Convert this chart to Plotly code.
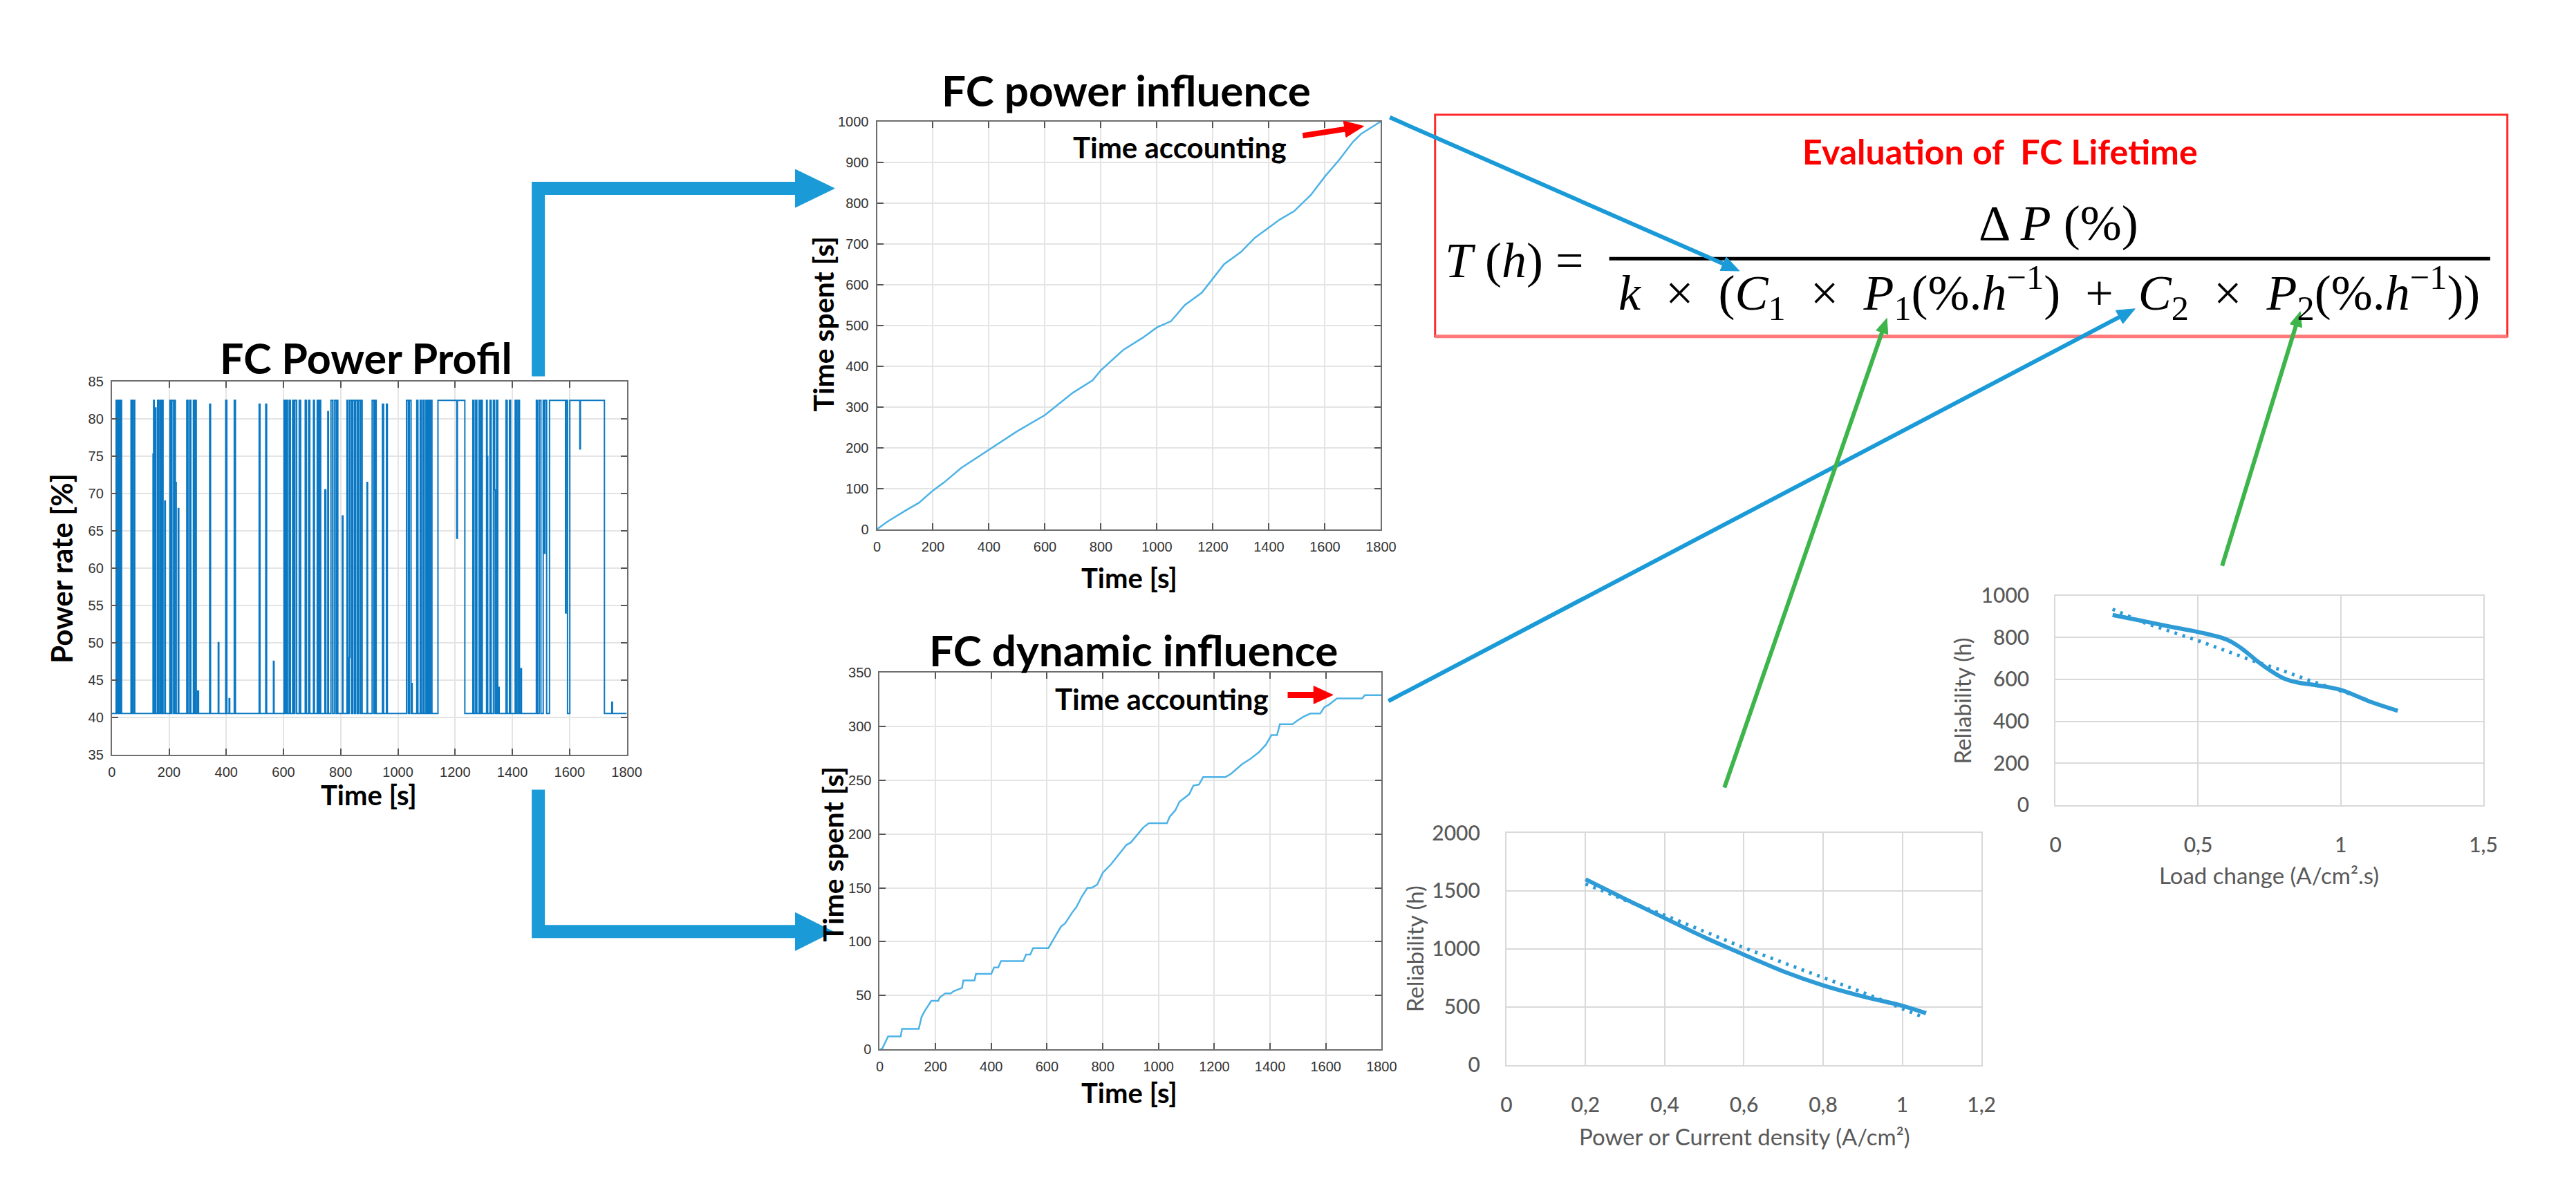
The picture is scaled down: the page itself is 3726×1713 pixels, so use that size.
import math
import plotly.graph_objects as go

W, H = 3726, 1713

# ---- FC power profile (step signal) : time [s], power rate [%]
PROFILE_T = [0,
             15, 18, 22, 26, 30, 34, 67, 71, 75, 80,
             144, 146, 148, 152, 154, 160, 163, 168, 172, 176, 179, 185, 187,
             203, 207, 210, 216, 220, 222, 225, 232, 234,
             262, 266, 272, 276, 285, 289, 292, 295, 300, 303,
             342, 345, 372, 374, 398, 402, 410, 412, 428, 432,
             515, 518, 538, 541, 565, 567,
             602, 606, 610, 614, 620, 624, 632, 636, 640, 646, 655, 660,
             676, 680, 688, 692, 705, 708, 718, 722, 726, 730, 745, 748, 755, 757,
             766, 772, 778, 784, 788, 790, 806, 808,
             822, 826, 830, 832, 838, 842, 848, 852, 858, 862, 868, 870, 875, 892, 894,
             910, 916, 920, 924, 946, 950, 960, 963,
             1030, 1036, 1040, 1046, 1048, 1050,
             1066, 1070, 1078, 1082, 1088, 1092, 1098, 1102, 1106, 1110, 1114, 1119,
             1140, 1206, 1208, 1234,
             1262, 1266, 1272, 1276, 1284, 1288, 1292, 1295,
             1310, 1312, 1314, 1322, 1326, 1334, 1338, 1340, 1345, 1349, 1352, 1354,
             1378, 1382, 1390, 1394, 1410, 1415, 1420, 1425, 1430, 1432,
             1484, 1488, 1494, 1500, 1508, 1512, 1514, 1520,
             1530, 1586, 1588, 1593, 1601, 1636, 1638, 1722, 1748, 1750, 1800]
PROFILE_P = [40.5,
             82.5, 40.5, 82.5, 40.5, 82.5, 40.5, 82.5, 40.5, 82.5, 40.5,
             75.3, 82.5, 40.5, 81.5, 40.5, 82.5, 40.5, 82.5, 40.5, 82.5, 40.5, 69, 40.5,
             82.5, 40.5, 82.5, 40.5, 82.5, 71.5, 40.5, 68, 40.5,
             82.5, 40.5, 82.5, 40.5, 82.5, 40.5, 82.5, 40.5, 43.5, 40.5,
             82, 40.5, 50, 40.5, 82.5, 40.5, 42.5, 40.5, 82.5, 40.5,
             82, 40.5, 82, 40.5, 47.5, 40.5,
             82.5, 40.5, 82.5, 40.5, 82.5, 40.5, 82.5, 40.5, 82.5, 40.5, 82.5, 40.5,
             82.5, 40.5, 82.5, 40.5, 82.5, 40.5, 82.5, 40.5, 82.5, 40.5, 70.5, 40.5, 81, 40.5,
             82.5, 40.5, 82.5, 40.5, 82.5, 40.5, 67, 40.5,
             82.5, 40.5, 48, 82.5, 40.5, 82.5, 40.5, 82.5, 40.5, 82.5, 40.5, 82.5, 40.5, 71.5, 40.5,
             82.5, 40.5, 82.5, 40.5, 82, 40.5, 82, 40.5,
             82.5, 40.5, 82.5, 40.5, 44.5, 40.5,
             82.5, 40.5, 82.5, 40.5, 82.5, 40.5, 82.5, 40.5, 82.5, 40.5, 82.5, 40.5,
             82.5, 64, 82.5, 40.5,
             82.5, 40.5, 82.5, 40.5, 82.5, 40.5, 82.5, 40.5,
             82.5, 75, 40.5, 82.5, 40.5, 82.5, 70.5, 40.5, 82.5, 40.5, 44, 40.5,
             82.5, 40.5, 82.5, 40.5, 82.5, 40.5, 82.5, 40.5, 46.5, 40.5,
             82.5, 40.5, 82.5, 40.5, 82.5, 62, 82.5, 40.5,
             82.5, 54, 82.5, 40.5, 82.5, 76, 82.5, 40.5, 42, 40.5, 40.5]

# ---- FC power influence : cumulated time spent [s]
POWER_T = [0, 40, 100, 150, 200, 240, 300, 400, 500, 600, 700, 770, 800, 880, 950, 1000,
           1050, 1100, 1160, 1240, 1300, 1350, 1400, 1440, 1490, 1550, 1600, 1650, 1700, 1730, 1800]
POWER_S = [0, 20, 45, 65, 95, 115, 150, 195, 240, 280, 335, 365, 390, 440, 470, 495,
           510, 550, 580, 650, 680, 715, 740, 760, 780, 820, 865, 905, 950, 970, 1000]

# ---- FC dynamic influence : cumulated time spent [s]
DYN_T = [0, 8, 30, 75, 80, 140, 150, 160, 185, 210, 215, 235, 255, 265, 295, 300, 340, 345,
         400, 410, 425, 435, 515, 525, 540, 550, 605, 630, 650, 665, 690, 705, 725, 745,
         760, 780, 800, 830, 855, 885, 900, 925, 945, 965, 1030, 1040, 1060, 1075, 1110,
         1125, 1145, 1160, 1240, 1260, 1300, 1330, 1360, 1385, 1405, 1425, 1435, 1480,
         1495, 1520, 1545, 1580, 1595, 1610, 1640, 1730, 1740, 1800]
DYN_S = [0, 0, 12, 12, 19, 19, 30, 35, 45, 45, 48, 52, 52, 54, 57, 64, 64, 70,
         70, 76, 76, 82, 82, 88, 88, 94, 94, 105, 114, 117, 127, 132, 142, 150,
         150, 153, 164, 172, 180, 190, 192, 200, 206, 210, 210, 216, 222, 230, 237,
         245, 246, 253, 253, 256, 265, 270, 276, 283, 292, 292, 302, 302,
         305, 309, 312, 312, 318, 320, 326, 326, 329, 329]

# ---- Reliability vs power / current density
DENS_X = [0.2, 0.3, 0.4, 0.5, 0.6, 0.7, 0.8, 0.9, 1.0, 1.06]
DENS_Y = [1600, 1430, 1265, 1100, 950, 805, 685, 590, 510, 445]
DENS_TREND_X = [0.2, 0.3, 0.4, 0.5, 0.6, 0.7, 0.8, 0.9, 1.0, 1.05]
DENS_TREND_Y = [1560, 1420, 1290, 1150, 1010, 880, 755, 625, 485, 415]
DENS_TICKS = [0, 0.2, 0.4, 0.6, 0.8, 1.0, 1.2]
DENS_TICKTEXT = ["0", "0,2", "0,4", "0,6", "0,8", "1", "1,2"]

# ---- Reliability vs load change
LOAD_X = [0.2, 0.3, 0.4, 0.5, 0.6, 0.65, 0.7, 0.75, 0.8, 0.85, 0.9, 1.0, 1.1, 1.2]
LOAD_Y = [907, 880, 852, 826, 790, 750, 695, 645, 605, 585, 575, 550, 495, 450]
LOAD_TREND_X = [0.2, 0.3, 0.4, 0.5, 0.6, 0.7, 0.8, 0.9, 1.0, 1.1]
LOAD_TREND_Y = [935, 875, 830, 785, 735, 685, 640, 590, 545, 500]
LOAD_TICKS = [0, 0.5, 1.0, 1.5]
LOAD_TICKTEXT = ["0", "0,5", "1", "1,5"]


def fx(x):
    return x / W


def fy(y):
    return 1 - y / H


def dom_x(a, b):
    return [fx(a), fx(b)]


def dom_y(top, bottom):
    return [fy(bottom), fy(top)]


matlab_font = dict(family="Liberation Sans, Arial", size=20, color="#333333")
excel_font = dict(family="Lato", size=30, color="#595959", weight=500)


def matlab_axis(**kw):
    d = dict(showline=True, linecolor="#6e6e6e", linewidth=2, mirror="ticks",
             ticks="inside", ticklen=9, tickwidth=2, tickcolor="#555555",
             showgrid=True, gridcolor="#e4e4e4", gridwidth=2, zeroline=False,
             tickfont=matlab_font, ticklabelstandoff=6, fixedrange=True)
    d.update(kw)
    return d


def excel_axis(**kw):
    d = dict(showline=True, linecolor="#d9d9d9", linewidth=2, mirror=True, ticks="",
             showgrid=True, gridcolor="#d9d9d9", gridwidth=2, zeroline=False,
             tickfont=excel_font, ticklabelstandoff=30, fixedrange=True)
    d.update(kw)
    return d


fig = go.Figure()

fig.add_trace(go.Scatter(x=PROFILE_T, y=PROFILE_P, mode="lines", xaxis="x", yaxis="y",
                         line=dict(color="#0a78c2", width=2, shape="hv")))
fig.add_trace(go.Scatter(x=POWER_T, y=POWER_S, mode="lines", xaxis="x2", yaxis="y2",
                         line=dict(color="#4db3e6", width=2.5)))
fig.add_trace(go.Scatter(x=DYN_T, y=DYN_S, mode="lines", xaxis="x3", yaxis="y3",
                         line=dict(color="#4db3e6", width=2.5)))
fig.add_trace(go.Scatter(x=DENS_TREND_X, y=DENS_TREND_Y, mode="lines", xaxis="x4", yaxis="y4",
                         line=dict(color="#2e9bd6", width=5, dash="4px,8px")))
fig.add_trace(go.Scatter(x=DENS_X, y=DENS_Y, mode="lines", xaxis="x4", yaxis="y4",
                         line=dict(color="#2e9bd6", width=6, shape="spline")))
fig.add_trace(go.Scatter(x=LOAD_TREND_X, y=LOAD_TREND_Y, mode="lines", xaxis="x5", yaxis="y5",
                         line=dict(color="#2e9bd6", width=5, dash="4px,8px")))
fig.add_trace(go.Scatter(x=LOAD_X, y=LOAD_Y, mode="lines", xaxis="x5", yaxis="y5",
                         line=dict(color="#2e9bd6", width=6, shape="spline")))

fig.update_layout(
    xaxis=matlab_axis(domain=dom_x(146, 897), anchor="y", range=[0, 1800], dtick=200),
    yaxis=matlab_axis(domain=dom_y(536, 1087), anchor="x", range=[35, 85], dtick=5),
    xaxis2=matlab_axis(domain=dom_x(1262, 1997), anchor="y2", range=[0, 1800], dtick=200),
    yaxis2=matlab_axis(domain=dom_y(151, 754), anchor="x2", range=[0, 1000], dtick=100),
    xaxis3=matlab_axis(domain=dom_x(1266, 1998), anchor="y3", range=[0, 1800], dtick=200),
    yaxis3=matlab_axis(domain=dom_y(966, 1523), anchor="x3", range=[0, 350], dtick=50),
    xaxis4=excel_axis(domain=dom_x(2180, 2873), anchor="y4", range=[0, 1.2],
                      tickvals=DENS_TICKS, ticktext=DENS_TICKTEXT),
    yaxis4=excel_axis(domain=dom_y(1203, 1546), anchor="x4", range=[0, 2000], dtick=500),
    xaxis5=excel_axis(domain=dom_x(2981, 3605), anchor="y5", range=[0, 1.5],
                      tickvals=LOAD_TICKS, ticktext=LOAD_TICKTEXT),
    yaxis5=excel_axis(domain=dom_y(852, 1162), anchor="x5", range=[0, 1000], dtick=200),
)

# ---- texts
ann = []


def txt(s, x, y, size, color="black", family="Lato", weight="normal", angle=0, xanchor="center"):
    ann.append(dict(text=s, x=fx(x), y=fy(y), xref="paper", yref="paper", showarrow=False,
                    xanchor=xanchor, yanchor="middle", textangle=angle,
                    font=dict(family=family, size=size, color=color, weight=weight)))


txt("FC Power Profil", 517, 500, 61, weight="bold")
txt("FC power influence", 1626, 104, 62, weight="bold")
txt("FC dynamic influence", 1636, 932, 62, weight="bold")

txt("Power rate [%]", 73, 812, 42, weight="bold", angle=-90)
txt("Time [s]", 521, 1147, 40, weight="bold")
txt("Time spent [s]", 1183, 450, 41, weight="bold", angle=-90)
txt("Time [s]", 1630, 826, 40, weight="bold")
txt("Time spent [s]", 1197, 1234, 41, weight="bold", angle=-90)
txt("Time [s]", 1630, 1587, 40, weight="bold")

txt("Time accounting", 1704, 189, 42, weight="bold")
txt("Time accounting", 1677, 1005, 42, weight="bold")

txt("Reliability (h)", 2046, 1374, 33, color="#595959", angle=-90)
txt("Power or Current density (A/cm²)", 2527, 1652, 33, color="#595959")
txt("Reliability (h)", 2845, 1008, 33, color="#595959", angle=-90)
txt("Load change (A/cm².s)", 3292, 1265, 33, color="#595959")

# formula
txt("Evaluation of\u00a0 FC Lifetime", 2900, 195, 50, color="#ff0000", weight="bold")
serif = "Liberation Serif, Times New Roman, serif"
sp = "\u00a0\u00a0"
txt("<i>T</i>\u00a0(<i>h</i>)\u00a0=", 2192, 357, 72, family=serif)
txt("Δ\u2009<i>P</i>\u00a0(%)", 2985, 302, 72, family=serif)
den = (f"<i>k</i>{sp}×{sp}(<i>C</i><sub>1</sub>{sp}×{sp}<i>P</i><sub>1</sub>"
       f"(%.<i>h</i><sup>−1</sup>){sp}+{sp}<i>C</i><sub>2</sub>{sp}×{sp}"
       f"<i>P</i><sub>2</sub>(%.<i>h</i><sup>−1</sup>))")
txt(den, 2972, 404, 72, family=serif)

# ---- shapes: box, fraction bar, arrows
shapes = []
shapes.append(dict(type="rect", xref="paper", yref="paper", x0=fx(2076), x1=fx(3640),
                   y0=fy(141), y1=fy(469), line=dict(color="#ff2a2a", width=3)))
shapes.append(dict(type="line", xref="paper", yref="paper", x0=fx(2076), x1=fx(3640),
                   y0=fy(469), y1=fy(469), line=dict(color="#ff7878", width=5)))
shapes.append(dict(type="line", xref="paper", yref="paper", x0=fx(2330), x1=fx(3615),
                   y0=fy(354), y1=fy(354), line=dict(color="black", width=5)))


def pts_path(pts, close=True):
    p = "M " + " L ".join(f"{fx(a):.6f},{fy(b):.6f}" for a, b in pts)
    return p + (" Z" if close else "")


def arrow(x0, y0, x1, y1, color, width, head_len, head_w):
    dx, dy = x1 - x0, y1 - y0
    n = math.hypot(dx, dy)
    ux, uy = dx / n, dy / n
    bx, by = x1 - ux * head_len, y1 - uy * head_len
    shapes.append(dict(type="line", xref="paper", yref="paper", x0=fx(x0), y0=fy(y0),
                       x1=fx(bx + ux * 3), y1=fy(by + uy * 3), line=dict(color=color, width=width)))
    px, py = -uy, ux
    tri = [(x1, y1), (bx + px * head_w / 2, by + py * head_w / 2),
           (bx - px * head_w / 2, by - py * head_w / 2)]
    shapes.append(dict(type="path", xref="paper", yref="paper", path=pts_path(tri),
                       fillcolor=color, line=dict(color=color, width=1)))


BLUE = "#1a9bd7"
GREEN = "#3db54a"

# big L-shaped arrows from the power profile
for (ytop, yh, tip) in [(528, 250, 1200), (1139, 1349, 1198)]:
    shapes.append(dict(type="path", xref="paper", yref="paper",
                       path=pts_path([(768, ytop), (768, yh), (1145, yh)], close=False),
                       line=dict(color=BLUE, width=19)))
    shapes.append(dict(type="path", xref="paper", yref="paper",
                       path=pts_path([(1143, yh - 28), (tip, yh), (1143, yh + 28)]),
                       fillcolor=BLUE, line=dict(color=BLUE, width=1)))

# red "time accounting" arrows
arrow(1883, 172, 1972, 158, "#ff0000", 8, 28, 24)
arrow(1861, 999, 1927, 999, "#ff0000", 9, 28, 26)

# blue links to C1 and C2
arrow(2010, 145, 2520, 372, BLUE, 6, 26, 22)
arrow(2008, 1008, 3097, 428, BLUE, 6, 26, 22)

# green links to P1 and P2
arrow(2498, 1136, 2735, 442, GREEN, 6, 22, 18)
arrow(3224, 808, 3338, 432, GREEN, 6, 22, 18)

fig.update_layout(
    width=W, height=H,
    margin=dict(l=0, r=0, t=0, b=0),
    paper_bgcolor="white", plot_bgcolor="white",
    showlegend=False,
    annotations=ann, shapes=shapes,
)

fig.write_html("out.html")
